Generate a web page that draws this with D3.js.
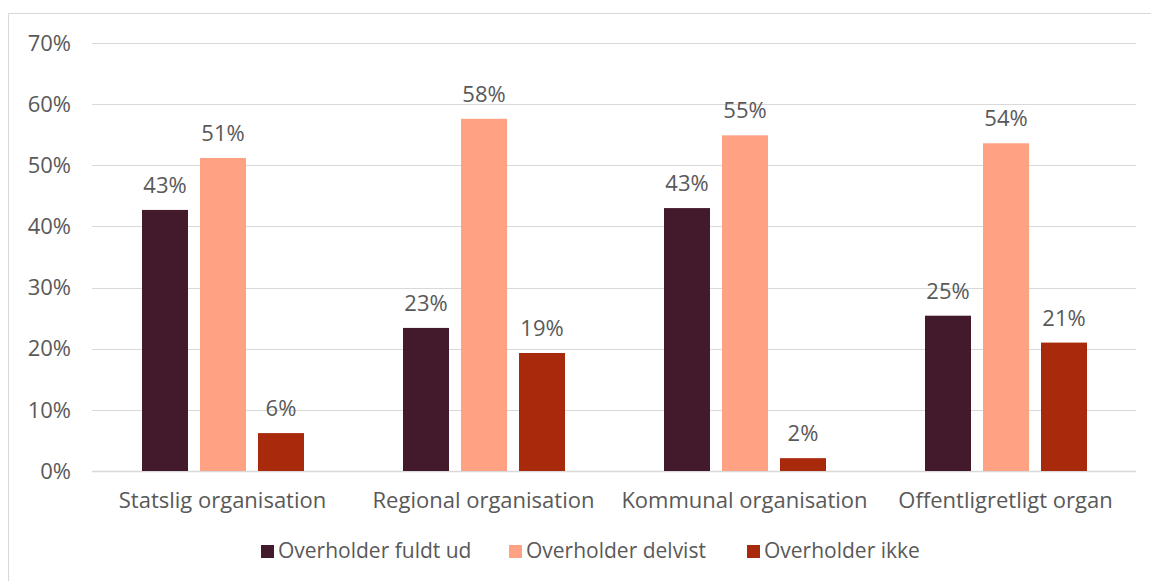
<!DOCTYPE html>
<html>
<head>
<meta charset="utf-8">
<script src="https://cdn.jsdelivr.net/npm/d3@7"></script>
<style>
  body { margin: 0; background: #fff; }
  text { font-family: "Open Sans", sans-serif; fill: #595959; }
</style>
</head>
<body>
<svg id="main" width="1151" height="581"></svg>
<script>
const categories = ["Statslig organisation", "Regional organisation", "Kommunal organisation", "Offentligretligt organ"];
const seriesNames = ["Overholder fuldt ud", "Overholder delvist", "Overholder ikke"];
const fuldtUd = [42.7, 23.4, 43.0, 25.4];
const delvist = [51.2, 57.6, 54.9, 53.6];
const ikke = [6.2, 19.3, 2.1, 21.0];
const yTicks = [0, 10, 20, 30, 40, 50, 60, 70];
const colors = ["#421a2b", "#ffa283", "#a8290c"];

const seriesValues = [fuldtUd, delvist, ikke];
const margin = { top: 43, right: 15, bottom: 110, left: 92 };
const width = 1151;
const height = 581;

const svg = d3.select('#main');

// outer chart border
svg.append('rect')
    .attr('x', 8.5)
    .attr('y', 13.5)
    .attr('width', 1150)
    .attr('height', 600)
    .attr('fill', 'none')
    .attr('stroke', '#d9d9d9');

const x0 = d3.scaleBand()
    .domain(categories)
    .range([margin.left, width - margin.right])
    .padding(0);

// bars sit in the middle of each category band
const x1 = d3.scaleBand()
    .domain(seriesNames)
    .range([50, 212])
    .paddingInner(0.207);

const y = d3.scaleLinear()
    .domain([0, 70])
    .range([471, margin.top]);

// gridlines
svg.append('g')
    .selectAll('line')
    .data(yTicks)
    .enter()
    .append('line')
    .attr('x1', margin.left)
    .attr('x2', width - margin.right)
    .attr('y1', d => Math.round(y(d)) + 0.5)
    .attr('y2', d => Math.round(y(d)) + 0.5)
    .attr('stroke', '#d9d9d9')
    .attr('stroke-width', d => d === 0 ? 1.5 : 1.2);

// y labels
svg.append('g')
    .selectAll('text')
    .data(yTicks)
    .enter()
    .append('text')
    .attr('x', 71)
    .attr('y', d => y(d))
    .attr('dy', '0.35em')
    .attr('text-anchor', 'end')
    .style('font-size', '22px')
    .text(d => d + '%');

// bars
const groups = svg.append('g')
    .selectAll('g')
    .data(categories)
    .enter()
    .append('g')
    .attr('transform', d => `translate(${x0(d)},0)`);

groups.each(function (cat, ci) {
    const g = d3.select(this);
    seriesNames.forEach((s, si) => {
        const v = seriesValues[si][ci];
        g.append('rect')
            .attr('x', x1(s))
            .attr('y', y(v))
            .attr('width', x1.bandwidth())
            .attr('height', y(0) - y(v))
            .attr('fill', colors[si]);
        g.append('text')
            .attr('x', x1(s) + x1.bandwidth() / 2)
            .attr('y', y(v) - 17)
            .attr('text-anchor', 'middle')
            .style('font-size', '22px')
            .text(Math.round(v) + '%');
    });
});

// category labels
svg.append('g')
    .selectAll('text')
    .data(categories)
    .enter()
    .append('text')
    .attr('x', d => x0(d) + x0.bandwidth() / 2)
    .attr('y', 508)
    .attr('text-anchor', 'middle')
    .style('font-size', '22px')
    .text(d => d);

// legend
const legendX = [261, 509, 747];
const legend = svg.append('g')
    .selectAll('g')
    .data(seriesNames)
    .enter()
    .append('g')
    .attr('transform', (d, i) => `translate(${legendX[i]},551)`);

legend.append('rect')
    .attr('x', 0)
    .attr('y', -6)
    .attr('width', 13)
    .attr('height', 13)
    .attr('fill', (d, i) => colors[i]);

legend.append('text')
    .attr('x', 17)
    .attr('y', 0)
    .attr('dy', '0.35em')
    .style('font-size', '21px')
    .text(d => d);
</script>
</body>
</html>
